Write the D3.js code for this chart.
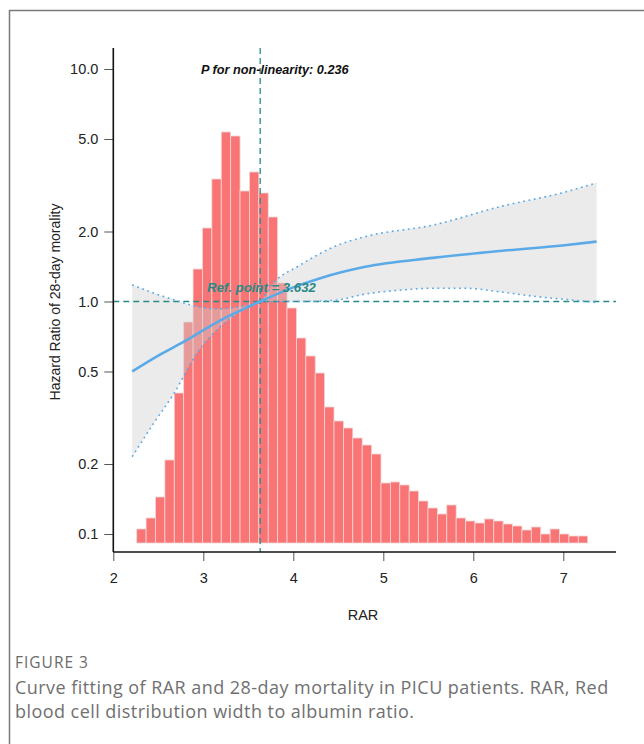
<!DOCTYPE html>
<html>
<head>
<meta charset="utf-8">
<script src="https://cdn.jsdelivr.net/npm/d3@7"></script>
<style>
  body { margin: 0; background: #fff; }
  svg { display: block; }
  .axis text { font-family: "Liberation Sans", Arial, sans-serif; font-size: 14.5px; fill: #222; }
  .axis line { stroke: #555; }
</style>
</head>
<body>
<div id="vis"></div>
<script>
// histogram of RAR (bin counts)
const histStart = 2.26;
const histWidth = 0.1044;
const histCounts = [14, 25, 46, 83, 150, 221, 274, 315, 364, 411, 407, 352, 371, 350, 326, 260,
    235, 205, 187, 170, 136, 122, 115, 105, 98, 89, 60, 61, 58, 52, 42, 35,
    29, 38, 25, 22, 20, 24, 22, 19, 17, 13, 16, 9, 14, 9, 7, 7];

// fitted hazard ratio curve and its 95% CI
const fitRAR = [2.21, 2.5, 2.78, 3.19, 3.632, 4.0, 4.3, 4.8, 5.55, 6.3, 7.04, 7.37];
const fitHR = [0.50, 0.585, 0.67, 0.83, 1.0, 1.15, 1.26, 1.41, 1.54, 1.65, 1.75, 1.81];

const upRAR = [2.21, 2.5, 2.7, 3.0, 3.2, 3.4, 3.632, 3.78, 4.07, 4.5, 4.82, 5.55, 6.3, 7.04, 7.37];
const upHR = [1.18, 1.07, 1.01, 0.94, 0.93, 0.95, 1.0, 1.2, 1.43, 1.75, 1.91, 2.13, 2.56, 2.97, 3.24];

const loRAR = [2.21, 2.45, 2.67, 2.93, 3.19, 3.44, 3.632, 4.07, 4.44, 4.82, 5.2, 5.55, 5.92, 6.3, 6.7, 7.04, 7.37];
const loHR = [0.215, 0.30, 0.40, 0.60, 0.78, 0.92, 1.0, 1.0, 1.01, 1.08, 1.12, 1.14, 1.14, 1.10, 1.05, 1.02, 0.99];

const xTicks = [2, 3, 4, 5, 6, 7];
const yTicks = [0.1, 0.2, 0.5, 1.0, 2.0, 5.0, 10.0];
const refPoint = 3.632;
const pNonLin = "0.236";

const W = 644, H = 744;
const svg = d3.select("#vis").append("svg")
    .attr("width", W)
    .attr("height", H);

// page frame
svg.append("path")
    .attr("d", "M9.5," + H + "V10.5H" + W)
    .attr("fill", "none")
    .attr("stroke", "#7a7a7a")
    .attr("stroke-width", 1.5);

var x = d3.scaleLinear().domain([2, 7]).range([113.3, 563.3]);
var y = d3.scaleLog().domain([0.1, 10]).range([534, 69]);
var yCount = d3.scaleLinear().domain([0, 411]).range([543, 132]);

// bars
let bins = histCounts.map((c, i) => ({x0: histStart + i * histWidth, x1: histStart + (i + 1) * histWidth, n: c}));
svg.append("g").selectAll("rect")
    .data(bins)
    .enter()
    .append("rect")
    .attr("x", d => x(d.x0))
    .attr("width", d => x(d.x1) - x(d.x0))
    .attr("y", d => yCount(d.n))
    .attr("height", d => yCount(0) - yCount(d.n))
    .attr("fill", "#f97474")
    .attr("stroke", "#f3d6d6")
    .attr("stroke-width", 0.8);

// CI band
let upPts = upRAR.map((r, i) => [r, upHR[i]]);
let loPts = loRAR.map((r, i) => [r, loHR[i]]);
let line = d3.line()
    .x(d => x(d[0]))
    .y(d => y(d[1]))
    .curve(d3.curveMonotoneX);
let bandPath = line(upPts) + "L" + line(loPts.slice().reverse()).slice(1) + "Z";
svg.append("path")
    .attr("d", bandPath)
    .attr("fill", "#cfcfcf")
    .attr("fill-opacity", 0.42);

// reference lines
const teal = "#2a8a86";
svg.append("line")
    .attr("x1", x(2)).attr("x2", 616)
    .attr("y1", y(1)).attr("y2", y(1))
    .attr("stroke", teal).attr("stroke-width", 1.3)
    .attr("stroke-dasharray", "6,4");
svg.append("line")
    .attr("x1", x(refPoint)).attr("x2", x(refPoint))
    .attr("y1", 48).attr("y2", 552)
    .attr("stroke", teal).attr("stroke-width", 1.3)
    .attr("stroke-dasharray", "6,4");

// CI limits
[upPts, loPts].forEach(pts => {
    svg.append("path")
        .attr("d", line(pts))
        .attr("fill", "none")
        .attr("stroke", "#5aaae8")
        .attr("stroke-width", 1.6)
        .attr("stroke-dasharray", "1.8,3.6");
});

// fitted curve
svg.append("path")
    .attr("d", line(fitRAR.map((r, i) => [r, fitHR[i]])))
    .attr("fill", "none")
    .attr("stroke", "#5aaae8")
    .attr("stroke-width", 2.6);

// axes
let yAxis = svg.append("g")
    .attr("class", "axis")
    .attr("transform", "translate(" + x(2) + ",0)")
    .call(d3.axisLeft(y).tickValues(yTicks).tickFormat(d3.format(".1f")).tickSize(9).tickPadding(6).tickSizeOuter(0));
yAxis.select(".domain").remove();
svg.append("line")
    .attr("x1", x(2)).attr("x2", x(2))
    .attr("y1", 48).attr("y2", 552)
    .attr("stroke", "#111").attr("stroke-width", 1.6);

let xAxis = svg.append("g")
    .attr("class", "axis")
    .attr("transform", "translate(0,552)")
    .call(d3.axisBottom(x).tickValues(xTicks).tickFormat(d3.format("d")).tickSize(9).tickPadding(12).tickSizeOuter(0));
xAxis.select(".domain").remove();
svg.append("line")
    .attr("x1", x(2)).attr("x2", 616)
    .attr("y1", 552).attr("y2", 552)
    .attr("stroke", "#111").attr("stroke-width", 1.6);

// labels
svg.append("text")
    .attr("x", 363).attr("y", 620)
    .attr("text-anchor", "middle")
    .style("font-family", "Liberation Sans, Arial, sans-serif")
    .style("font-size", "14.5px")
    .attr("fill", "#222")
    .text("RAR");
svg.append("text")
    .attr("transform", "translate(60,302) rotate(-90)")
    .attr("text-anchor", "middle")
    .style("font-family", "Liberation Sans, Arial, sans-serif")
    .style("font-size", "14px")
    .attr("fill", "#222")
    .text("Hazard Ratio of 28-day morality");

svg.append("text")
    .attr("x", 201).attr("y", 74)
    .style("font-family", "Liberation Sans, Arial, sans-serif")
    .style("font-size", "12.7px")
    .style("font-weight", "bold")
    .style("font-style", "italic")
    .attr("fill", "#111")
    .text("P for non-linearity: " + pNonLin);
svg.append("text")
    .attr("x", 207).attr("y", 292)
    .style("font-family", "Liberation Sans, Arial, sans-serif")
    .style("font-size", "13.2px")
    .style("font-weight", "bold")
    .style("font-style", "italic")
    .attr("fill", teal)
    .text("Ref. point = " + refPoint);

// caption
svg.append("text")
    .attr("x", 15).attr("y", 668)
    .style("font-family", "Open Sans, sans-serif")
    .style("font-size", "15.5px")
    .style("letter-spacing", "1px")
    .attr("fill", "#6b6b6b")
    .text("FIGURE 3");
let capLines = ["Curve fitting of RAR and 28-day mortality in PICU patients. RAR, Red",
    "blood cell distribution width to albumin ratio."];
capLines.forEach((t, i) => {
    svg.append("text")
        .attr("x", 15).attr("y", 694 + i * 24)
        .style("font-family", "Open Sans, sans-serif")
        .style("font-size", "18px")
        .style("letter-spacing", "0.45px")
        .attr("fill", "#707070")
        .text(t);
});
</script>
</body>
</html>
